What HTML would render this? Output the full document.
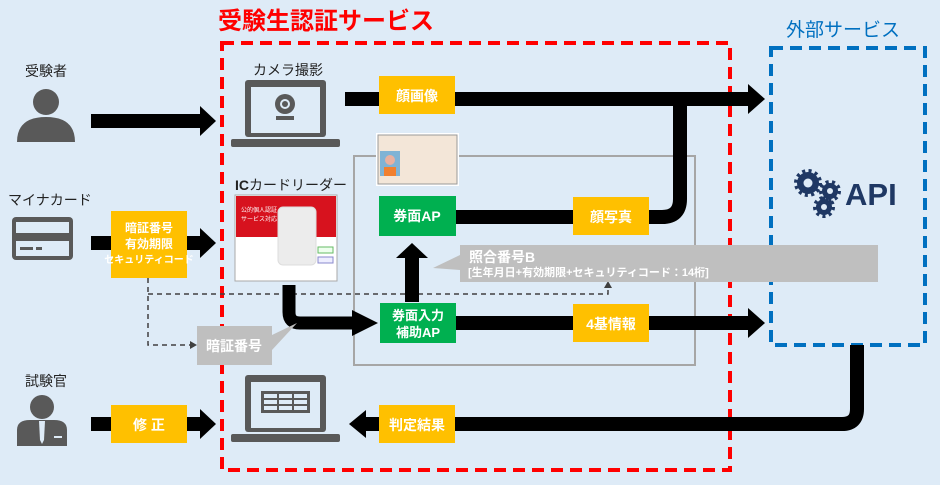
<!DOCTYPE html>
<html><head><meta charset="utf-8"><style>
html,body{margin:0;padding:0;background:#deebf7;}
svg{display:block;font-family:"Liberation Sans","Noto Sans CJK JP",sans-serif;}
</style></head><body>
<svg width="940" height="485" viewBox="0 0 940 485" xmlns="http://www.w3.org/2000/svg">
<rect width="940" height="485" fill="#deebf7"/>
<text x="218" y="29" font-size="24" fill="#ff0000" font-weight="bold">受験生認証サービス</text>
<text x="786" y="36" font-size="19" fill="#0070c0">外部サービス</text>
<rect x="354" y="156" width="341" height="209" fill="none" stroke="#a6a6a6" stroke-width="2"/>
<rect x="222" y="43" width="508" height="427" fill="none" stroke="#ff0000" stroke-width="4" stroke-dasharray="12,7"/>
<rect x="771" y="48" width="154" height="297" fill="none" stroke="#0070c0" stroke-width="4" stroke-dasharray="12,7"/>

<text x="25" y="76" font-size="14" fill="#222">受験者</text>
<text x="8" y="205" font-size="14" fill="#222">マイナカード</text>
<text x="25" y="386" font-size="14" fill="#222">試験官</text>

<circle cx="46" cy="102" r="13" fill="#595959"/>
<path d="M17 142 Q17 117 46 117 Q75 117 75 142 Z" fill="#595959"/>
<rect x="12" y="217" width="61" height="43" rx="4" fill="#595959"/>
<rect x="16" y="222" width="53" height="11" fill="#deebf7"/>
<rect x="16" y="241" width="53" height="15" fill="#deebf7"/>
<rect x="20" y="247" width="13" height="3" fill="#595959"/>
<rect x="36" y="247" width="6" height="3" fill="#595959"/>
<circle cx="42" cy="407" r="12" fill="#595959"/>
<path d="M17 446 L17 430 Q17 420 30 420 L54 420 Q67 420 67 430 L67 446 Z" fill="#595959"/>
<path d="M39 421 L45 421 L44 440 L42 444 L40 440 Z" fill="#deebf7"/>
<rect x="54" y="436" width="8" height="2" fill="#deebf7"/>

<rect x="91" y="114" width="110" height="14" fill="#000"/>
<polygon points="200,106 216,121 200,136" fill="#000"/>
<rect x="91" y="236" width="110" height="14" fill="#000"/>
<polygon points="200,228 216,243 200,258" fill="#000"/>
<rect x="91" y="417" width="110" height="14" fill="#000"/>
<polygon points="200,409 216,424 200,439" fill="#000"/>

<rect x="111" y="211" width="76" height="67" fill="#ffc000"/>
<text x="149" y="232" font-size="12" font-weight="bold" fill="#fff" text-anchor="middle">暗証番号</text>
<text x="149" y="248" font-size="12" font-weight="bold" fill="#fff" text-anchor="middle">有効期限</text>
<text x="149" y="263" font-size="10" font-weight="bold" fill="#fff" text-anchor="middle">セキュリティコード</text>
<rect x="111" y="405" width="76" height="38" fill="#ffc000"/>
<text x="149" y="430" font-size="14" font-weight="bold" fill="#fff" text-anchor="middle">修 正</text>

<path d="M148 278 L148 345 L190 345" fill="none" stroke="#404040" stroke-width="1.5" stroke-dasharray="5,4"/>
<polygon points="190,341 197,345 190,349" fill="#404040"/>
<path d="M148 294 L608 294 L608 287" fill="none" stroke="#404040" stroke-width="1.5" stroke-dasharray="5,4"/>
<polygon points="604,288 608,281 612,288" fill="#404040"/>

<text x="253" y="75" font-size="14" fill="#222">カメラ撮影</text>
<rect x="245" y="80" width="81" height="57" rx="3" fill="#595959"/>
<rect x="251" y="87" width="69" height="46" fill="#deebf7"/>
<rect x="231" y="139" width="109" height="8" rx="2" fill="#595959"/>
<circle cx="285" cy="104" r="10" fill="#595959"/>
<circle cx="285" cy="104" r="5" fill="#deebf7"/>
<circle cx="285" cy="104" r="3" fill="#595959"/>
<rect x="276" y="116" width="18" height="4" fill="#595959"/>

<rect x="245" y="375" width="81" height="57" rx="3" fill="#595959"/>
<rect x="251" y="382" width="69" height="46" fill="#deebf7"/>
<rect x="231" y="434" width="109" height="8" rx="2" fill="#595959"/>
<rect x="261" y="391" width="49" height="22" fill="#595959"/>
<g fill="#deebf7">
<rect x="264" y="394" width="13" height="4"/><rect x="279" y="394" width="13" height="4"/><rect x="294" y="394" width="13" height="4"/>
<rect x="264" y="400" width="13" height="4"/><rect x="279" y="400" width="13" height="4"/><rect x="294" y="400" width="13" height="4"/>
<rect x="264" y="406" width="13" height="4"/><rect x="279" y="406" width="13" height="4"/><rect x="294" y="406" width="13" height="4"/>
</g>

<text x="235" y="190" font-size="14" fill="#222"><tspan font-weight="bold">IC</tspan>カードリーダー</text>
<rect x="235" y="195" width="102" height="86" fill="#fff" stroke="#aaa"/>
<rect x="236" y="196" width="100" height="41" fill="#d7121e"/>
<text x="241" y="212" font-size="6" fill="#fff">公的個人認証</text>
<text x="241" y="221" font-size="6" fill="#fff">サービス対応</text>
<rect x="278" y="207" width="38" height="58" rx="5" fill="#ececec" stroke="#ddd"/>
<rect x="318" y="257" width="15" height="6" fill="#eef" stroke="#88c"/>
<rect x="318" y="247" width="15" height="6" fill="#efe" stroke="#6b6"/>

<rect x="345" y="92" width="405" height="14" fill="#000"/>
<polygon points="748,84 765,99 748,114" fill="#000"/>
<path d="M645 217 L662 217 Q680 217 680 199 L680 99" fill="none" stroke="#000" stroke-width="14"/>
<rect x="456" y="210" width="120" height="14" fill="#000"/>
<rect x="456" y="316" width="294" height="14" fill="#000"/>
<polygon points="748,308 765,323 748,338" fill="#000"/>
<path d="M289 285 L289 312 Q289 323 300 323 L355 323" fill="none" stroke="#000" stroke-width="13"/>
<polygon points="352,310 378,323 352,336" fill="#000"/>
<rect x="405" y="256" width="14" height="46" fill="#000"/>
<polygon points="396,258 412,243 428,258" fill="#000"/>
<path d="M857 345 L857 409 Q857 424 842 424 L365 424" fill="none" stroke="#000" stroke-width="14"/>
<polygon points="366,410 349,424 366,438" fill="#000"/>

<rect x="376" y="133" width="83" height="53" fill="#fff"/>
<rect x="378" y="135" width="79" height="49" fill="#f3e6d8" stroke="#999"/>
<rect x="380" y="151" width="20" height="25" fill="#7fb3d5"/>
<circle cx="390" cy="160" r="5" fill="#e8b0a0"/>
<rect x="384" y="167" width="12" height="9" fill="#f08030"/>

<rect x="379" y="76" width="76" height="38" fill="#ffc000"/>
<text x="417" y="101" font-size="14" font-weight="bold" fill="#fff" text-anchor="middle">顔画像</text>
<rect x="379" y="196" width="77" height="40" fill="#00b050"/>
<text x="417" y="221" font-size="14" font-weight="bold" fill="#fff" text-anchor="middle">券面AP</text>
<rect x="573" y="197" width="76" height="38" fill="#ffc000"/>
<text x="611" y="222" font-size="14" font-weight="bold" fill="#fff" text-anchor="middle">顔写真</text>
<rect x="380" y="303" width="76" height="40" fill="#00b050"/>
<text x="418" y="320" font-size="13" font-weight="bold" fill="#fff" text-anchor="middle">券面入力</text>
<text x="418" y="337" font-size="13" font-weight="bold" fill="#fff" text-anchor="middle">補助AP</text>
<rect x="573" y="304" width="76" height="38" fill="#ffc000"/>
<text x="611" y="329" font-size="14" font-weight="bold" fill="#fff" text-anchor="middle">4基情報</text>
<rect x="379" y="405" width="76" height="38" fill="#ffc000"/>
<text x="417" y="430" font-size="14" font-weight="bold" fill="#fff" text-anchor="middle">判定結果</text>

<path d="M460 245 L878 245 L878 282 L460 282 L460 270 L433 268 L460 255 Z" fill="#bfbfbf"/>
<text x="469" y="262" font-size="14" fill="#fff" font-weight="bold">照合番号B</text>
<text x="468" y="276" font-size="11" fill="#fff" font-weight="bold">[生年月日+有効期限+セキュリティコード：14桁]</text>
<path d="M197 326 L272 326 L272 335 L297 323 L272 350 L272 365 L197 365 Z" fill="#bfbfbf"/>
<text x="234" y="351" font-size="14" font-weight="bold" fill="#fff" text-anchor="middle">暗証番号</text>

<g fill="#1f3864">
<circle cx="808" cy="183" r="11"/>
<circle cx="830" cy="191" r="8"/>
<circle cx="824" cy="207" r="8"/>
<g stroke="#1f3864" stroke-width="4" stroke-dasharray="3,3.3">
<circle cx="808" cy="183" r="12" fill="none"/>
<circle cx="830" cy="191" r="9" fill="none"/>
<circle cx="824" cy="207" r="9" fill="none"/>
</g>
</g>
<circle cx="808" cy="183" r="4.5" fill="#deebf7"/>
<circle cx="830" cy="191" r="3" fill="#deebf7"/>
<circle cx="824" cy="207" r="3" fill="#deebf7"/>
<text x="845" y="205" font-size="31" font-weight="bold" fill="#1f3864">API</text>
</svg>
</body></html>
